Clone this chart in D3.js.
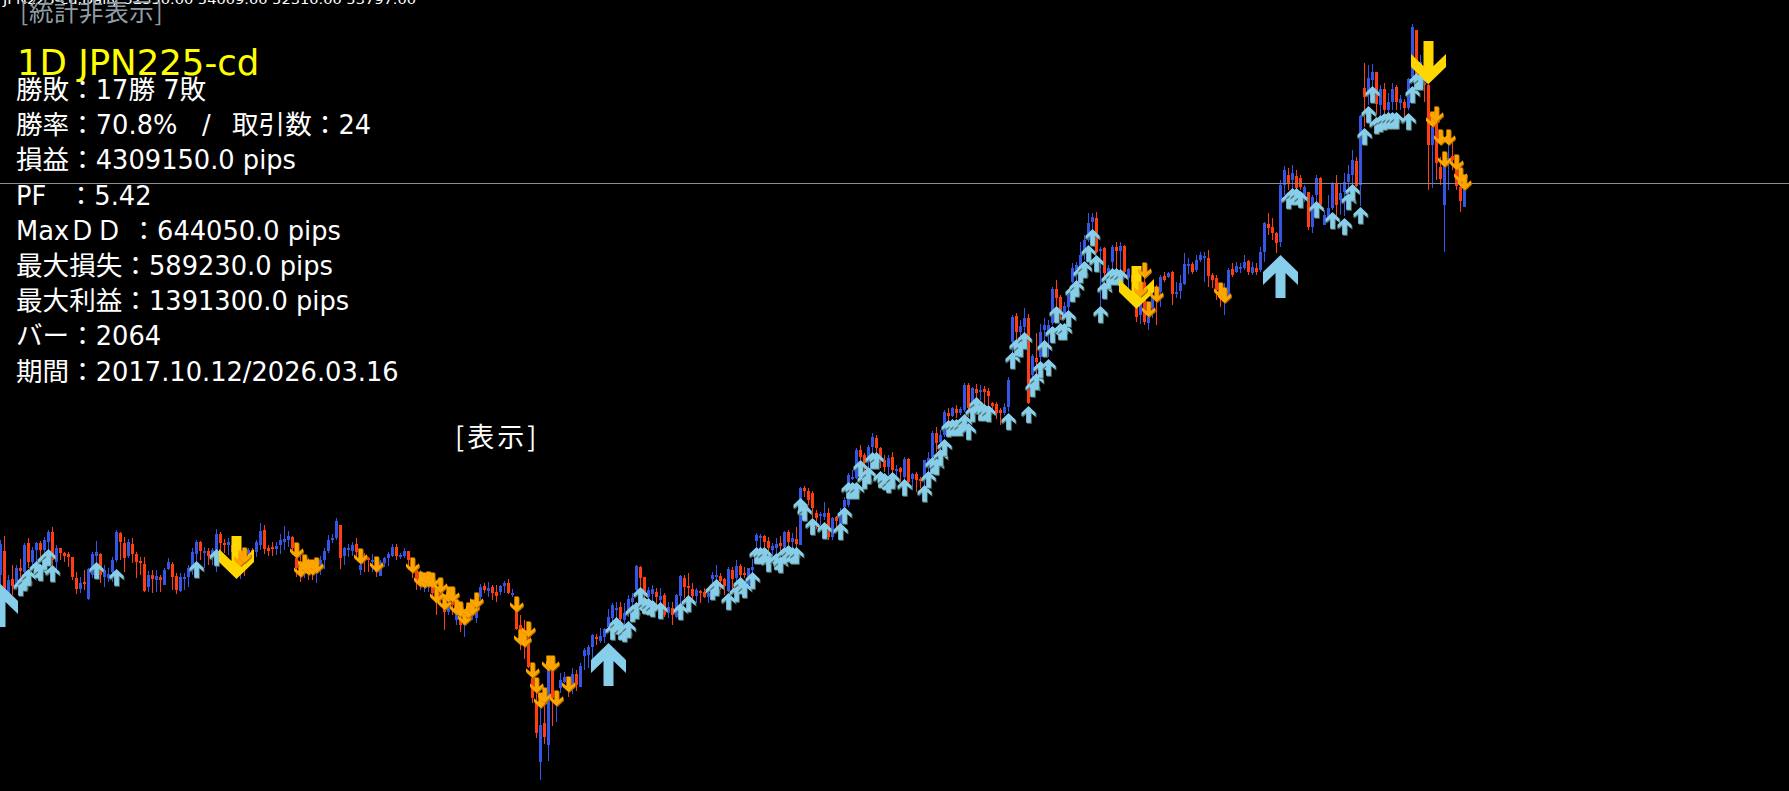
<!DOCTYPE html>
<html lang="ja"><head><meta charset="utf-8"><title>1D JPN225-cd</title>
<script src="https://cdn.jsdelivr.net/npm/d3@7"></script>
<style>html,body{margin:0;padding:0;background:#000;overflow:hidden}svg{display:block}</style>
</head><body><svg id="c" width="1789" height="791"></svg>
<script>
const opens=[37000,37960,36200,36840,36600,37280,37120,38280,37520,38000,
38280,38000,38320,38720,37520,38080,37880,37840,37720,36880,
36440,36720,36040,37000,37760,37840,36920,36880,37120,37600,
38680,38280,37760,38240,37840,37560,37440,36520,37000,36800,
36920,36600,37240,37440,36960,36360,36840,36920,37280,37840,
38320,37920,37960,37840,38000,38640,38280,38200,38200,38000,
37520,37880,37840,38000,37920,38200,38800,38080,38120,38040,
38200,38320,38400,38520,37680,37360,37200,37360,37400,37280,
37400,37600,37960,38400,38480,39000,37760,38000,37960,38240,
37200,37800,37680,37520,37400,36960,37480,37680,37760,38120,
37760,37760,37960,37560,37200,36720,36600,36560,36720,36280,
36280,35680,35520,35920,35200,35200,35000,35400,35400,35280,
36120,36560,36360,36520,36320,36320,36560,36680,36200,35600,
35000,34800,34400,32880,31880,29520,31080,30200,33200,31880,
32480,32720,32680,32480,33040,32520,33760,33800,34120,34520,
34360,34520,34920,35280,35600,35720,35200,35600,35920,36400,
37320,36920,36120,36240,36320,36000,36200,35480,35680,35320,
36160,36880,36560,36440,36160,36360,36320,36120,36840,36920,
36960,36840,36360,37200,36880,37360,37080,36600,37200,38360,
38520,38560,38360,38000,38080,38280,38120,38720,38320,38440,
38200,40480,40360,40280,39480,39360,39320,39480,38520,39320,
39000,39720,39800,40880,40880,42000,41800,41600,42120,42480,
42080,41600,41320,41720,41160,41280,40920,41640,40840,41040,
40840,40800,41480,41720,42680,42320,42600,43480,43360,43640,
43480,43600,44600,43880,44440,44320,44440,44360,43880,43840,
43600,43480,43720,46320,47360,46720,46920,47280,45000,45680,
45720,46800,46720,47080,48440,48120,47400,47720,48720,49080,
49280,49880,50400,51120,51280,49960,50080,48800,49520,50120,
49960,50160,48880,49000,47680,47400,48720,47080,47680,48400,
48320,48960,48920,49120,48280,48360,48640,49400,49440,49200,
49600,49720,49680,49000,48880,48400,48000,48080,49240,49120,
49280,49280,49560,49080,49280,49200,49920,51040,50920,50680,
50320,52600,53000,52800,52960,52880,52200,52320,50920,52200,
52880,51000,51320,51680,52680,52000,52320,52720,53000,53560,
52600,56480,56200,56800,57120,55800,56440,55600,55920,56520,
55880,55920,55680,56920,58800,57000,56680,56600,54200,55080,
53320,51800,53600,53760,53440,52520,51720];
const closes=[38240,36400,36800,36560,37280,37160,38200,37520,38000,38280,
38000,38400,38720,37600,38080,37880,37760,37720,36920,36440,
36680,36640,37240,37840,37920,37000,37200,37040,37600,38720,
38320,37680,38320,37840,37520,37480,36360,37000,36840,36960,
36800,37200,37520,36920,36400,36920,36920,37280,37920,38320,
37960,37960,37760,38000,38640,38280,38200,38320,37920,37760,
37760,37600,38000,37880,38320,38760,38040,37960,38040,38160,
38400,38440,38560,38080,37280,37120,37400,37120,37200,37480,
37600,37960,38400,38480,39160,37680,38080,38080,38200,37920,
37400,37600,37600,37600,37120,37520,37680,37840,38120,37760,
37800,37960,37600,37200,36800,36960,36800,36800,36280,35880,
36120,35520,35800,35800,35520,35000,35200,35280,35600,35520,
36520,36400,36480,36280,36160,36560,36680,36280,36280,34840,
34400,34200,33320,32080,30680,31000,30520,33200,32080,32080,
32800,32920,32480,33040,32600,33360,34000,34120,34600,34440,
34560,34840,35320,35800,35680,35240,35480,36040,36080,37360,
36880,36320,36400,36440,36120,36160,35400,35720,35400,36200,
36960,36520,36480,36160,36400,36320,36120,36280,37000,37000,
36760,36560,37240,36840,37360,37000,37040,37280,37320,38600,
38560,38320,38080,38160,38240,38160,38720,38320,38480,38240,
40480,40360,40000,39680,39280,39440,39480,38520,39280,39160,
39480,40000,41000,40920,42000,41720,41480,42120,42520,42080,
41720,41320,41680,41200,41240,41120,41640,40720,41040,40800,
40760,41600,41680,42680,42280,42600,43520,43360,43680,43480,
43640,44600,43680,44480,44280,44400,44320,44160,43760,43480,
43480,43720,44800,47320,46720,46960,47280,43880,45760,45520,
46720,47000,47000,48440,48080,47400,47760,48280,49280,49400,
49800,50400,51080,51320,49920,50040,49080,49280,50120,49960,
50160,49120,49240,48720,47320,47880,47120,47320,48120,48000,
48920,48800,49080,48240,48320,48680,49440,49440,49120,49600,
49800,49760,48960,48800,48400,48200,48280,49200,49000,49360,
49320,49520,49120,49320,49120,49920,51080,50880,50680,50280,
52600,53200,52680,53080,52480,52520,52520,50920,52120,52880,
51800,51400,51680,52680,51800,52280,52720,53040,53600,52560,
55360,56120,56880,57120,55840,56440,55600,55920,56440,55920,
56040,55680,56840,58920,56880,57520,56600,54200,54920,53480,
52840,53480,53680,53600,52560,51960,52680];
const highs=[38400,38560,37000,37400,37400,37640,38280,38480,38120,38320,
38360,38520,38800,38920,38200,38080,37920,37920,37720,37120,
36920,37200,37280,37920,38360,37880,37400,37280,37720,38800,
38720,38520,38440,38480,37920,37720,37720,37160,37200,37200,
37000,37280,37680,37520,37080,37080,37080,37400,38080,38400,
38360,38120,38080,38080,38840,38720,38440,38480,38320,38200,
37920,38000,38080,38080,38400,39080,39000,38200,38320,38320,
38640,38960,38760,38560,38200,37760,37600,37680,37600,37680,
37760,38080,38600,38640,39280,39000,38120,38240,38320,38480,
37800,37880,37720,37840,37600,37600,37720,37920,38240,38240,
37880,38080,37960,37680,37400,37200,37000,37000,37000,36400,
36400,36200,36000,36120,35800,35520,35520,35600,35760,36000,
36640,36680,36720,36600,36600,36600,36760,36840,36440,35880,
35400,35200,34600,33400,32280,32000,32000,33320,33320,32120,
33080,33120,32920,33280,33200,33480,34080,34200,34640,34640,
34880,34880,35640,35880,35920,35920,35880,36200,36280,37400,
37360,36920,36520,36600,36480,36480,36280,35920,35920,36240,
37000,37000,37080,36680,36480,36400,36480,36400,37120,37400,
37080,36880,37320,37320,37600,37440,37320,37280,37640,38680,
38640,38600,38520,38280,38480,38560,38760,38800,38680,38920,
40520,40560,40480,40360,39600,39520,39920,39680,39320,39360,
39680,40120,41080,41200,42080,42200,41880,42200,42680,42600,
42120,41800,41800,41920,41400,41320,41720,41680,41080,41120,
40920,41600,41920,42760,42920,42800,43600,43680,43720,43800,
43720,44680,44680,44520,44640,44600,44560,44480,43920,43920,
43680,43880,44920,47400,47480,47200,47680,47440,45840,46680,
47040,47280,47200,48520,48800,48200,47920,48400,49480,49520,
50320,50600,51480,51480,51520,50120,50120,49400,50200,50320,
50320,50200,49280,49200,48600,48400,49320,47600,48400,48600,
49000,49120,49120,49160,48720,49000,49880,49680,49520,49800,
49920,49920,50000,49080,49000,48600,48680,49280,49480,49520,
49480,49800,49600,49520,49480,50120,51120,51480,51280,50720,
52800,53360,53280,53400,53200,53000,52600,52320,52200,53000,
52920,51600,52200,52720,53000,52680,53080,53400,54000,53720,
55400,57480,57400,57440,57120,56600,56680,56280,56680,56600,
56200,56040,56880,59040,58800,57800,56720,56640,55080,55200,
53720,53680,54280,54280,53600,52800,52760];
const lows=[36400,36000,36000,36200,36400,36800,36880,37280,37280,37400,
37680,37720,37920,37280,37200,37600,37520,37320,36800,36240,
36280,36400,36000,36880,37400,36680,36520,36720,36720,37520,
37600,37120,37680,37480,36880,37000,36320,36320,36280,36320,
36320,36600,37200,36400,36240,36320,36400,36520,37000,37520,
37600,37280,37400,37400,37120,37800,37880,37800,37600,37400,
36840,36960,37400,37520,37720,38000,37840,37760,37760,37800,
37840,38000,38120,37800,36920,36720,36880,36800,36800,36680,
37000,37240,37880,38280,38400,37240,37400,37720,37760,37720,
37000,37120,37120,37120,36920,36960,37320,37360,37720,37600,
37640,37680,37200,36880,36400,36400,36320,36320,36120,35400,
35800,34800,35400,35400,35000,34720,34520,35120,35200,35080,
36000,36280,36120,36000,35920,36200,36280,36240,36120,34800,
34000,33640,33280,31880,30480,28800,30240,29560,30960,31120,
32280,32680,32120,32240,32360,32520,33200,33280,33600,34200,
34280,34280,34800,35080,35200,34920,34800,35320,35600,36320,
36400,36080,36000,36000,35800,35680,35320,35280,35000,35280,
35680,36080,35920,35880,35880,35880,36080,35880,36200,36400,
36400,36200,36320,36320,36280,36600,36880,36480,36800,38120,
38080,38080,37800,37520,37800,37800,38080,38200,38080,38080,
38200,40120,39800,39280,38840,39000,39200,38400,38400,38800,
38800,39520,39720,40800,40840,41600,40920,41000,41720,41600,
41280,41120,41000,40800,40920,40720,40520,40680,40400,40320,
40480,40480,40800,41600,41920,42000,42520,43120,43320,43280,
43400,43520,43320,43720,43880,44000,43800,43800,43480,43240,
43000,43400,43520,45600,46200,46200,46400,43840,44800,44800,
45400,46280,45720,47000,47720,47200,47200,47200,48680,48600,
49000,49600,50320,50800,49880,47760,48800,48600,49000,49200,
49200,48880,48400,48200,47120,47040,47000,46800,47280,47000,
47720,48720,48880,47800,48080,48040,48600,49040,49040,49120,
49520,48720,48520,48480,48000,47720,47400,48000,48920,49080,
49080,49200,49000,49000,49000,49120,49520,50600,50400,49880,
50120,52200,52400,52200,52200,52400,51920,50800,50680,51800,
51720,51000,51120,51600,51320,51400,51360,52200,52200,52520,
51760,54920,55800,56400,55400,55400,55480,55400,55600,55600,
55600,55320,55600,56880,56800,56400,55920,52400,52480,52800,
52600,49920,52400,53200,52400,51520,51720];

const buyIndex=[5,6,7,9,10,11,12,13,24,29,49,54,153,154,155,156,157,158,159,160,161,162,163,165,170,172,178,179,182,184,185,186,188,189,190,191,192,194,195,196,197,198,199,200,201,203,206,210,211,212,213,214,215,216,217,218,219,220,221,222,223,226,231,232,233,234,235,236,237,238,239,240,241,242,243,244,245,246,247,252,253,254,255,256,257,258,259,260,261,262,263,264,265,266,267,268,269,270,271,272,273,274,275,276,277,278,279,280,322,323,324,325,329,333,336,337,338,340,341,342,343,344,345,346,347,348,349,352,353,354,355];
const buyPrice=[36840,37040,37240,37560,37440,37880,38040,37400,37520,37240,37560,38040,35080,35320,35080,35000,35160,35800,35920,36520,36120,36080,36000,35920,35880,36200,36680,36840,36280,36600,36920,36760,37120,38120,38120,38120,37800,37880,37760,38120,38200,38120,38120,40080,39840,39280,39120,39080,39720,40720,40720,40720,41600,41120,41320,41920,41920,41160,41080,40960,41120,40840,40600,41160,41720,41680,42040,42440,43200,43240,43240,43240,43440,43080,43800,44120,43840,43840,43800,43480,45920,46440,46400,46720,43760,44800,45080,45560,46400,45640,46960,47760,47080,47080,47600,48600,48800,49360,49560,50200,50840,49800,47760,48720,49120,49280,49280,49240,52320,52480,52480,52360,51960,51520,51280,52280,52640,51720,54880,55760,56560,55320,55400,55480,55520,55520,55520,55480,56560,57080,57080];
const sellIndex=[60,61,74,75,76,77,78,79,90,94,103,105,106,107,108,109,110,111,112,113,114,115,116,117,118,119,129,130,131,132,133,134,135,136,137,138,139,142,285,286,287,289,305,306,358,359,360,361,362,364,365,366];
const sellPrice=[37360,37480,37680,36920,37200,37000,37000,37080,37440,37120,37080,36520,36480,36520,36480,35880,36280,35600,35920,35920,35400,35320,35000,35280,35400,35680,35520,34200,34120,34520,32880,32280,31680,31880,33160,33160,31760,32320,48120,48880,47320,47920,48080,47880,54920,55120,54200,53320,54200,53200,52680,52400];
const bigBuyIndex=[0,152,320];
const bigBuyPrice=[36640,34280,49800];
const bigSellIndex=[59,284,357];
const bigSellPrice=[36840,47640,56640];
const currentPrice=52680;
const headerLine="JPN225-cd,Daily 52350.00 54009.00 52310.00 53797.00";
const titleText="1D JPN225-cd";
const statLines=["勝敗：17勝 7敗","勝率：70.8%\u00a0\u00a0\u00a0/\u00a0\u00a0\u2009取引数：24","損益：4309150.0 pips","PF\u00a0\u00a0\u2009：5.42","MaxＤＤ ：644050.0 pips","最大損失：589230.0 pips","最大利益：1391300.0 pips","バー：2064","期間：2017.10.12/2026.03.16"];

const W=1789,H=791;
const svg=d3.select("#c");
svg.append("rect").attr("width",W).attr("height",H).attr("fill","#000");
const x=d3.scaleLinear().domain([0,366]).range([0.5,1464.5]);
const y=d3.scaleLinear().domain([60000,28360]).range([0,H]);
const UP="#3455e6",DN="#ff3c12";

const candles=d3.range(opens.length).map(i=>({i,o:opens[i],c:closes[i],h:highs[i],l:lows[i]}));
const g=svg.append("g").attr("shape-rendering","crispEdges");
g.selectAll("line.w").data(candles).join("line").attr("class","w")
 .attr("x1",d=>x(d.i)).attr("x2",d=>x(d.i)).attr("y1",d=>y(d.h)).attr("y2",d=>y(d.l))
 .attr("stroke",d=>d.c>=d.o?UP:DN).attr("stroke-width",1);
g.selectAll("rect.b").data(candles).join("rect").attr("class","b")
 .attr("x",d=>x(d.i)-1.5).attr("width",3)
 .attr("y",d=>y(Math.max(d.o,d.c))).attr("height",d=>Math.max(2,y(Math.min(d.o,d.c))-y(Math.max(d.o,d.c))))
 .attr("fill",d=>d.c>=d.o?UP:DN);

// current price line
svg.append("line").attr("x1",0).attr("x2",W).attr("y1",Math.round(y(currentPrice))+0.5).attr("y2",Math.round(y(currentPrice))+0.5)
 .attr("stroke","#8c8c8c").attr("stroke-width",1);

// arrow: apex at the origin, pointing up; f=-1 flips it downward
const bigArrow=d3.line()([[0,0],[17.5,17],[17.5,30],[5,18],[5,43],[-5,43],[-5,18],[-17.5,30],[-17.5,17]])+"Z";
const smallArrow=d3.line()([[0,0],[18,17],[18,27],[6,17],[6,43],[-6,43],[-6,17],[-18,27],[-18,17]])+"Z";
function drawArrows(idx,px,opt){
  const data=idx.map((k,j)=>({k,p:px[j]}));
  const layer=svg.append("g");
  data.forEach(d=>{
    if(opt.shadow) layer.append("path").attr("d",opt.path)
      .attr("transform",`translate(${x(d.k)+0.9},${y(d.p)+1.1}) scale(${opt.s},${opt.s*opt.f})`).attr("fill",opt.shadow);
    layer.append("path").attr("d",opt.path)
      .attr("transform",`translate(${x(d.k)},${y(d.p)}) scale(${opt.s},${opt.s*opt.f})`).attr("fill",opt.fill);
  });
}
drawArrows(buyIndex,buyPrice,{s:0.39,f:1,fill:"#87ceeb",shadow:"#55786a",path:smallArrow});
drawArrows(bigBuyIndex,bigBuyPrice,{s:1,f:1,fill:"#87ceeb",path:bigArrow});
drawArrows(bigSellIndex,bigSellPrice,{s:1,f:-1,fill:"#ffd700",path:bigArrow});
drawArrows(sellIndex,sellPrice,{s:0.36,f:-1,fill:"#ffa500",shadow:"#b36f00",path:smallArrow});

// text
const CJK="'Noto Sans CJK JP'",LAT="'DejaVu Sans'";
function mixed(sel,str,cj,la){
  str.match(/[\u3000-\u30ff\u4e00-\u9fff\uff00-\uffef]+|[^\u3000-\u30ff\u4e00-\u9fff\uff00-\uffef]+/g).forEach(s=>{
    const isC=/[\u3000-\u30ff\u4e00-\u9fff\uff00-\uffef]/.test(s);
    sel.append("tspan").attr("font-family",isC?CJK:LAT).attr("font-size",isC?cj:la).text(s);
  });
}
const t=svg.append("g");
t.append("text").attr("x",3).attr("y",3.5).attr("fill","#fff").attr("font-family",LAT).attr("font-size",13)
 .attr("textLength",413).attr("lengthAdjust","spacingAndGlyphs").text(headerLine);
t.append("text").attr("x",20).attr("y",21).attr("fill","#8f9ea6").attr("font-family",CJK).attr("font-size",24.5).attr("letter-spacing",0.6).text("[統計非表示]");
t.append("text").attr("x",17).attr("y",75).attr("fill","#ffff00").attr("font-family",LAT).attr("font-size",35.5).text(titleText);
statLines.forEach((s,i)=>{
  const e=t.append("text").attr("x",16).attr("y",99+i*35.2).attr("fill","#fff");
  mixed(e,s,26.6,25.7);
});
t.append("text").attr("x",455).attr("y",447).attr("fill","#fff").attr("font-family",CJK).attr("font-size",27).attr("letter-spacing",3).text("[表示]");
</script></body></html>
